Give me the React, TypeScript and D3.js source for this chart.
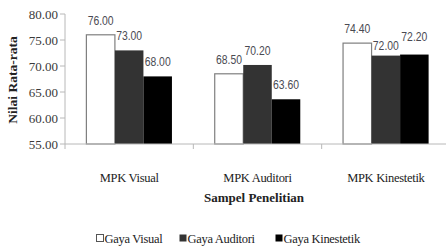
import { useMemo } from "react";
import * as d3 from "d3";

const categories = ["MPK Visual", "MPK Auditori", "MPK Kinestetik"];
const seriesNames = ["Gaya Visual", "Gaya Auditori", "Gaya Kinestetik"];
const gayaVisual = [76.0, 68.5, 74.4];
const gayaAuditori = [73.0, 70.2, 72.0];
const gayaKinestetik = [68.0, 63.6, 72.2];
const yTicks = [55, 60, 65, 70, 75, 80];

const COLORS = ["#ffffff", "#333333", "#000000"];
const WIDTH = 446;
const HEIGHT = 248;
const MARGIN = { top: 14, right: -4, bottom: 104, left: 65 };

const App = () => {
  const values = [gayaVisual, gayaAuditori, gayaKinestetik];
  const boundsWidth = WIDTH - MARGIN.left - MARGIN.right;
  const boundsHeight = HEIGHT - MARGIN.top - MARGIN.bottom;

  const xScale = useMemo(
    () => d3.scaleBand().domain(categories).range([0, boundsWidth]).padding(0),
    [boundsWidth]
  );
  const yScale = useMemo(
    () => d3.scaleLinear().domain([55, 80]).range([boundsHeight, 0]),
    [boundsHeight]
  );
  // bars in a group, with space of 0.75 bar on each side
  const inner = d3
    .scaleBand()
    .domain(seriesNames)
    .range([0, xScale.bandwidth()])
    .paddingInner(0)
    .paddingOuter(0.75);

  // label positions; labels of neighbouring bars at almost the same height get staggered
  const labels = useMemo(() => {
    const out: { x: number; y: number; text: string; key: string }[] = [];
    categories.forEach((c, j) => {
      const ys = values.map((serie) => yScale(serie[j]) - 10);
      for (let i = 1; i < ys.length; i++) {
        if (Math.abs(ys[i] - ys[i - 1]) < 4) {
          ys[i - 1] += 4;
          ys[i] -= 4;
        }
      }
      values.forEach((serie, i) => {
        out.push({
          key: `${i}-${j}`,
          x: (xScale(c) ?? 0) + (inner(seriesNames[i]) ?? 0) + inner.bandwidth() / 2,
          y: ys[i],
          text: serie[j].toFixed(2),
        });
      });
    });
    return out;
  }, [xScale, yScale]);

  const serif = "Liberation Serif";
  const sans = "Liberation Sans";

  const legendX = [96, 179, 275];

  return (
    <div style={{ position: "absolute", left: 0, top: 0 }}>
      <svg width={WIDTH} height={HEIGHT} style={{ display: "block", background: "#fff" }}>
        <g transform={`translate(${MARGIN.left},${MARGIN.top})`}>
          {/* bars */}
          {values.map((serie, i) => (
            <g key={i}>
              {serie.map((v, j) => {
                const x = (xScale(categories[j]) ?? 0) + (inner(seriesNames[i]) ?? 0);
                const y = yScale(v);
                return (
                  <rect
                    key={j}
                    x={x}
                    y={y}
                    width={inner.bandwidth()}
                    height={boundsHeight - y}
                    fill={COLORS[i]}
                    stroke={i === 0 ? "#7f7f7f" : "none"}
                    strokeWidth={1.2}
                  />
                );
              })}
            </g>
          ))}
          {/* value labels (narrow, like Arial Narrow) */}
          {labels.map((l) => (
            <text
              key={l.key}
              x={l.x - 13}
              y={l.y}
              fontFamily={sans}
              fontSize={13.5}
              textLength={26}
              lengthAdjust="spacingAndGlyphs"
              fill="#4a4a52"
            >
              {l.text}
            </text>
          ))}
          {/* y axis */}
          <line x1={0} x2={0} y1={0} y2={boundsHeight} stroke="#b8b8b8" />
          {yTicks.map((t) => (
            <g key={t} transform={`translate(0,${yScale(t)})`}>
              <line x1={-5} x2={0} stroke="#b8b8b8" />
              <text
                x={-7}
                dy="0.35em"
                textAnchor="end"
                fontFamily={serif}
                fontSize={13}
                fill="#3a3a3a"
              >
                {t.toFixed(2)}
              </text>
            </g>
          ))}
          {/* x axis */}
          <line x1={0} x2={boundsWidth} y1={boundsHeight} y2={boundsHeight} stroke="#b8b8b8" />
          {categories.map((c) => (
            <line
              key={`t-${c}`}
              x1={xScale(c) ?? 0}
              x2={xScale(c) ?? 0}
              y1={boundsHeight}
              y2={boundsHeight + 5}
              stroke="#b8b8b8"
            />
          ))}
          {categories.map((c) => (
            <text
              key={c}
              x={(xScale(c) ?? 0) + xScale.bandwidth() / 2}
              y={boundsHeight + 38}
              textAnchor="middle"
              fontFamily={serif}
              fontSize={12.5}
              letterSpacing={-0.3}
              fill="#222"
            >
              {c}
            </text>
          ))}
        </g>
        {/* axis titles */}
        <text
          transform={`translate(17,${MARGIN.top + boundsHeight / 2 + 1}) rotate(-90)`}
          textAnchor="middle"
          fontFamily={serif}
          fontWeight="bold"
          fontSize={13.5}
          fill="#222"
        >
          Nilai Rata-rata
        </text>
        <text
          x={254}
          y={202}
          textAnchor="middle"
          fontFamily={serif}
          fontWeight="bold"
          fontSize={13}
          fill="#222"
        >
          Sampel Penelitian
        </text>
        {/* legend */}
        {seriesNames.map((s, i) => (
          <g key={s} transform={`translate(${legendX[i]},233)`}>
            <rect x={0.5} y={1.5} width={7} height={7} fill={COLORS[i]} stroke={i === 0 ? "#555" : "none"} />
            <text x={8.5} y={9.5} fontFamily={serif} fontSize={12.5} letterSpacing={-0.3} fill="#222">
              {s}
            </text>
          </g>
        ))}
      </svg>
    </div>
  );
};

export default App;
